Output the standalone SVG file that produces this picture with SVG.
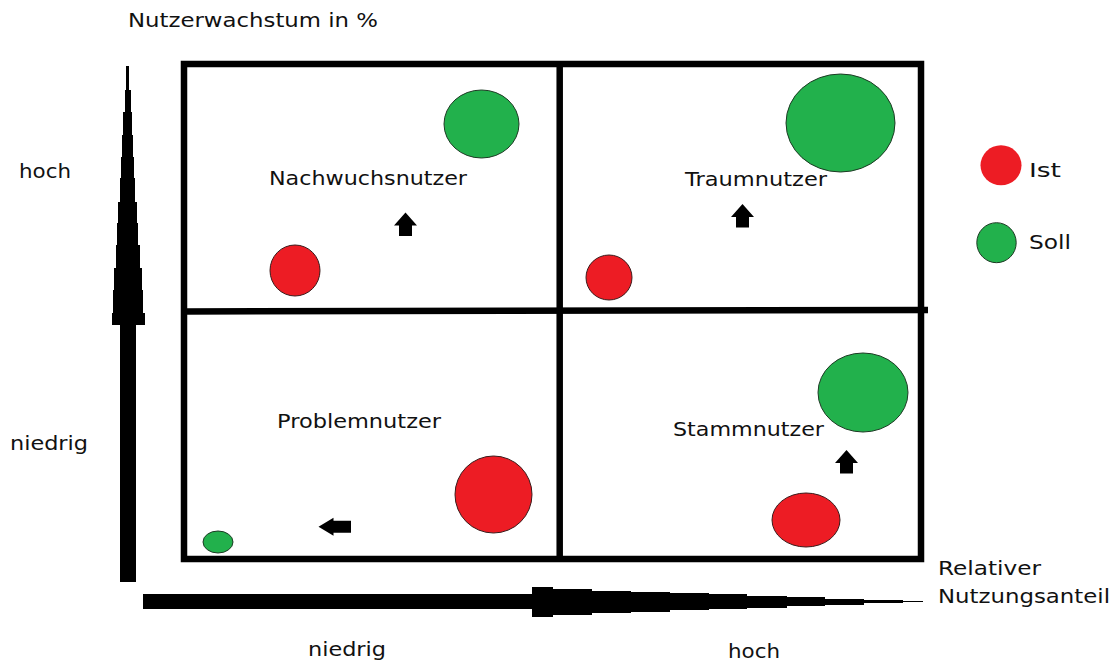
<svg xmlns="http://www.w3.org/2000/svg" width="1114" height="661" viewBox="0 0 1114 661">
  <style>
    .lbl { font-family: "DejaVu Sans", Verdana, sans-serif; font-size: 20px; fill: #111; }
    .grid { fill: none; stroke: #000; stroke-width: 6.5; }
    .ist { fill: #ED1C24; stroke: #3a1a1a; stroke-width: 1; }
    .soll { fill: #22B14C; stroke: #1d3a24; stroke-width: 1; }
    .move { fill: #000; }
    .axis { fill: #000; shape-rendering: crispEdges; }
  </style>
  <defs>
    <path id="arrow-up" d="M0,0 L11.5,13 L6.5,13 L6.5,23.5 L-6.5,23.5 L-6.5,13 L-11.5,13 Z"/>
    <path id="arrow-left" d="M0,0 L15,-9 L15,-6 L32.5,-6 L32.5,6 L15,6 L15,9 Z"/>
  </defs>
  <rect width="1114" height="661" fill="#fff"/>

  <!-- axes: stepped, tapering arrows -->
  <g id="axes">
    <polygon id="axis-y" class="axis" points="126,66 129,66 129,90 131,90 131,112 132,112 132,135 133,135 133,157 134,157 134,178 135,178 135,202 137,202 137,223 138,223 138,245 140,245 140,268 142,268 142,290 143,290 143,313 145,313 145,325 136,325 136,582 120,582 120,325 112,325 112,313 113,313 113,290 114,290 114,268 116,268 116,245 117,245 117,223 118,223 118,202 120,202 120,178 121,178 121,157 122,157 122,135 123,135 123,112 125,112 125,90 126,90"/>
    <polygon id="axis-x" class="axis" points="143,594 532,594 532,587 553,587 553,589 592,589 592,591 631,591 631,592 670,592 670,593 709,593 709,594 747,594 747,596 787,596 787,597 825,597 825,599 864,599 864,600 903,600 903,601 923,601 923,602 903,602 903,603 864,603 864,605 825,605 825,606 787,606 787,608 747,608 747,609 709,609 709,610 670,610 670,612 631,612 631,613 592,613 592,615 553,615 553,617 532,617 532,609 143,609"/>
    <text class="lbl" x="128" y="27" textLength="250" lengthAdjust="spacingAndGlyphs">Nutzerwachstum in %</text>
    <text class="lbl" x="19" y="178" textLength="52" lengthAdjust="spacingAndGlyphs">hoch</text>
    <text class="lbl" x="10" y="450" textLength="78" lengthAdjust="spacingAndGlyphs">niedrig</text>
    <text class="lbl" x="308" y="656" textLength="78" lengthAdjust="spacingAndGlyphs">niedrig</text>
    <text class="lbl" x="728" y="658" textLength="52" lengthAdjust="spacingAndGlyphs">hoch</text>
    <text class="lbl" x="938" y="575" textLength="103" lengthAdjust="spacingAndGlyphs">Relativer</text>
    <text class="lbl" x="938" y="603" textLength="172" lengthAdjust="spacingAndGlyphs">Nutzungsanteil</text>
  </g>

  <!-- quadrant grid -->
  <g id="grid">
    <rect class="grid" x="184" y="64" width="737" height="495"/>
    <line class="grid" x1="559.7" y1="64" x2="559.7" y2="559"/>
    <line class="grid" x1="184" y1="311.5" x2="928" y2="310"/>
  </g>

  <g id="nachwuchsnutzer">
    <text class="lbl" x="269" y="185" textLength="198" lengthAdjust="spacingAndGlyphs">Nachwuchsnutzer</text>
    <ellipse class="soll" cx="481.5" cy="124" rx="37.5" ry="34"/>
    <ellipse class="ist" cx="295" cy="270.5" rx="25" ry="25.5"/>
    <use href="#arrow-up" class="move" x="405.5" y="212.5"/>
  </g>

  <g id="traumnutzer">
    <text class="lbl" x="685" y="186" textLength="142" lengthAdjust="spacingAndGlyphs">Traumnutzer</text>
    <ellipse class="soll" cx="840.5" cy="123" rx="54.5" ry="49"/>
    <ellipse class="ist" cx="609" cy="277.5" rx="23" ry="22.5"/>
    <use href="#arrow-up" class="move" x="742.5" y="204"/>
  </g>

  <g id="problemnutzer">
    <text class="lbl" x="277" y="428" textLength="164" lengthAdjust="spacingAndGlyphs">Problemnutzer</text>
    <ellipse class="ist" cx="493.5" cy="494.5" rx="38.5" ry="38.5"/>
    <ellipse class="soll" cx="218" cy="542" rx="15" ry="11"/>
    <use href="#arrow-left" class="move" x="318.5" y="526.7"/>
  </g>

  <g id="stammnutzer">
    <text class="lbl" x="673" y="436" textLength="151" lengthAdjust="spacingAndGlyphs">Stammnutzer</text>
    <ellipse class="soll" cx="863" cy="392.5" rx="45" ry="39.5"/>
    <ellipse class="ist" cx="806" cy="520" rx="34" ry="27"/>
    <use href="#arrow-up" class="move" x="846.5" y="450"/>
  </g>

  <g id="legend">
    <ellipse cx="1001" cy="165.3" rx="20.5" ry="20" fill="#ED1C24"/>
    <text class="lbl" x="1029" y="177" textLength="32" lengthAdjust="spacingAndGlyphs">Ist</text>
    <ellipse class="soll" cx="996.5" cy="242.7" rx="19.7" ry="20"/>
    <text class="lbl" x="1029" y="249" textLength="42" lengthAdjust="spacingAndGlyphs">Soll</text>
  </g>
</svg>
